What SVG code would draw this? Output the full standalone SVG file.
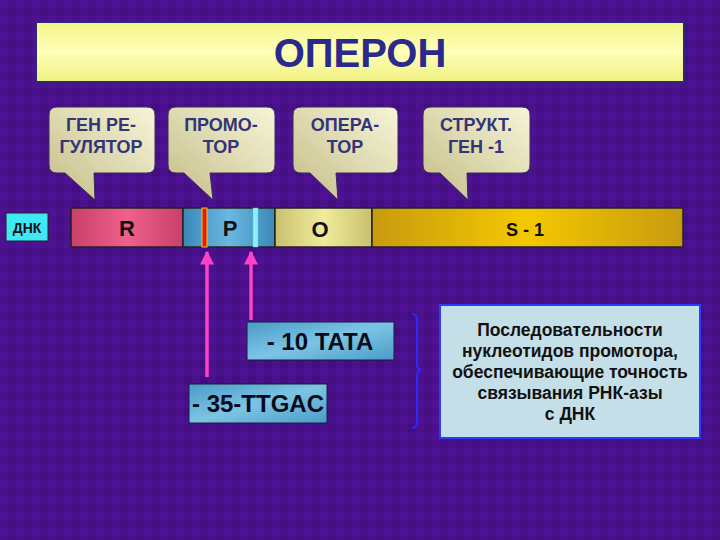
<svg xmlns="http://www.w3.org/2000/svg" width="720" height="540" viewBox="0 0 720 540">
<defs>
<pattern id="tex" width="16" height="16" patternUnits="userSpaceOnUse">
<rect width="16" height="16" fill="#4a118c"/>
<rect x="0" y="0" width="8" height="8" fill="#52139a" opacity="0.6"/>
<rect x="8" y="8" width="8" height="8" fill="#3f0c7c" opacity="0.6"/>
</pattern>
<linearGradient id="gTitle" x1="0" y1="0" x2="0" y2="1">
<stop offset="0" stop-color="#f4f48a"/><stop offset="0.5" stop-color="#ffffb8"/><stop offset="1" stop-color="#f0f080"/>
</linearGradient>
<linearGradient id="gCall" x1="1" y1="0" x2="0" y2="1">
<stop offset="0" stop-color="#f7f5d8"/><stop offset="1" stop-color="#c4bd88"/>
</linearGradient>
<linearGradient id="gR" x1="0" y1="0" x2="1" y2="0">
<stop offset="0" stop-color="#c8406a"/><stop offset="0.5" stop-color="#f0608c"/><stop offset="1" stop-color="#c8406a"/>
</linearGradient>
<linearGradient id="gP" x1="0" y1="0" x2="1" y2="0">
<stop offset="0" stop-color="#3a88b8"/><stop offset="0.5" stop-color="#6ab8e0"/><stop offset="1" stop-color="#3a88b8"/>
</linearGradient>
<linearGradient id="gO" x1="0" y1="0" x2="1" y2="0">
<stop offset="0" stop-color="#c8c070"/><stop offset="0.5" stop-color="#f0ec9c"/><stop offset="1" stop-color="#c8c070"/>
</linearGradient>
<linearGradient id="gS" x1="0" y1="0" x2="1" y2="0">
<stop offset="0" stop-color="#c89a10"/><stop offset="0.5" stop-color="#f4c800"/><stop offset="1" stop-color="#c89a10"/>
</linearGradient>
<linearGradient id="gBox" x1="0" y1="0" x2="1" y2="1">
<stop offset="0" stop-color="#4a9cc8"/><stop offset="0.5" stop-color="#7cc4e4"/><stop offset="1" stop-color="#4a9cc8"/>
</linearGradient>
<marker id="ah" viewBox="0 0 10 10" refX="9" refY="5" markerWidth="4" markerHeight="4" orient="auto">
<path d="M0,0 L10,5 L0,10 z" fill="#ff40c8"/>
</marker>
<style>
.call{fill:url(#gCall);stroke:#3a2a5a;stroke-width:1}
.ct{font-family:"Liberation Sans",Arial,sans-serif;font-weight:bold;font-size:18px;fill:#343478;text-anchor:middle}
.seg{stroke:#222;stroke-width:1.5}
.st{font-family:"Liberation Sans",Arial,sans-serif;font-weight:bold;font-size:22px;fill:#111;text-anchor:middle}
.bx{font-family:"Liberation Sans",Arial,sans-serif;font-weight:bold;font-size:24px;fill:#0a0a1a;text-anchor:middle}
.pk{stroke:#ff40c8;stroke-width:3.5;fill:none}
.nt{font-family:"Liberation Sans",Arial,sans-serif;font-weight:bold;font-size:17.5px;fill:#111;text-anchor:middle}
</style>
</defs>
<rect width="720" height="540" fill="url(#tex)"/>

<g id="title">
<rect x="36" y="22" width="648" height="60" fill="url(#gTitle)" stroke="#2a2a7a" stroke-width="2"/>
<text x="360" y="67" font-family="Liberation Sans,Arial,sans-serif" font-weight="bold" font-size="40" fill="#2a2a8c" text-anchor="middle">ОПЕРОН</text>
</g>

<g id="callout-reg">
<path class="call" d="M57,107 H147 Q155,107 155,115 V165 Q155,173 147,173 H94 L95,200 L65,173 H57 Q49,173 49,165 V115 Q49,107 57,107 Z"/>
<text class="ct" x="101" y="131">ГЕН  РЕ-</text>
<text class="ct" x="101" y="153">ГУЛЯТОР</text>
</g>
<g id="callout-prom">
<path class="call" d="M176,107 H267 Q275,107 275,115 V165 Q275,173 267,173 H210 L213,200 L184,173 H176 Q168,173 168,165 V115 Q168,107 176,107 Z"/>
<text class="ct" x="221" y="131">ПРОМО-</text>
<text class="ct" x="221" y="153">ТОР</text>
</g>
<g id="callout-oper">
<path class="call" d="M301,107 H390 Q398,107 398,115 V165 Q398,173 390,173 H336 L338,200 L310,173 H301 Q293,173 293,165 V115 Q293,107 301,107 Z"/>
<text class="ct" x="345" y="131">ОПЕРА-</text>
<text class="ct" x="345" y="153">ТОР</text>
</g>
<g id="callout-struct">
<path class="call" d="M431,107 H522 Q530,107 530,115 V165 Q530,173 522,173 H467 L468,200 L440,173 H431 Q423,173 423,165 V115 Q423,107 431,107 Z"/>
<text class="ct" x="476" y="131">СТРУКТ.</text>
<text class="ct" x="476" y="153">ГЕН -1</text>
</g>

<g id="dnk-label">
<rect x="6" y="213" width="42" height="28" fill="#40e8f4" stroke="#222" stroke-width="1"/>
<text x="27" y="233" font-family="Liberation Sans,Arial,sans-serif" font-weight="bold" font-size="14" fill="#111" text-anchor="middle">ДНК</text>
</g>

<g id="seg-R">
<rect class="seg" x="71" y="208" width="112" height="39" fill="url(#gR)"/>
<text class="st" x="127" y="236">R</text>
</g>
<g id="seg-P">
<rect class="seg" x="183" y="208" width="92" height="39" fill="url(#gP)"/>
<rect x="202" y="208" width="5" height="39" fill="#e02000" stroke="#f0c040" stroke-width="1"/>
<rect x="253" y="208" width="5" height="39" fill="#8ef0ff" stroke="#60c0e0" stroke-width="0.5"/>
<text class="st" x="230" y="236">P</text>
</g>
<g id="seg-O">
<rect class="seg" x="275" y="208" width="97" height="39" fill="url(#gO)"/>
<text class="st" x="320" y="237">O</text>
</g>
<g id="seg-S1">
<rect class="seg" x="372" y="208" width="311" height="39" fill="url(#gS)"/>
<text x="525" y="236" font-family="Liberation Sans,Arial,sans-serif" font-weight="bold" font-size="18" fill="#111" text-anchor="middle">S - 1</text>
</g>

<g id="box-10">
<rect x="247" y="322" width="147" height="38" fill="url(#gBox)" stroke="#1a1a3a" stroke-width="1"/>
<text class="bx" x="320" y="350">- 10 TATA</text>
</g>
<g id="box-35">
<rect x="189" y="384" width="138" height="39" fill="url(#gBox)" stroke="#1a1a3a" stroke-width="1"/>
<text class="bx" x="258" y="412">- 35-TTGAC</text>
</g>

<g id="note">
<rect x="440" y="305" width="260" height="133" fill="#c4dfe8" stroke="#2a3cff" stroke-width="2"/>
<text class="nt" x="570" y="336">Последовательности</text>
<text class="nt" x="570" y="357">нуклеотидов  промотора,</text>
<text class="nt" x="570" y="378">обеспечивающие точность</text>
<text class="nt" x="570" y="399">связывания РНК-азы</text>
<text class="nt" x="570" y="420">с ДНК</text>
</g>

<g id="connectors">
<line class="pk" x1="207" y1="377" x2="207" y2="252" marker-end="url(#ah)"/>
<line class="pk" x1="251" y1="320" x2="251" y2="252" marker-end="url(#ah)"/>
<path d="M412,314 Q417,314 417,320 V364 Q417,369 421,370 Q417,371 417,376 V422 Q417,428 412,428" fill="none" stroke="#2a2aff" stroke-width="2"/>
</g>
</svg>
